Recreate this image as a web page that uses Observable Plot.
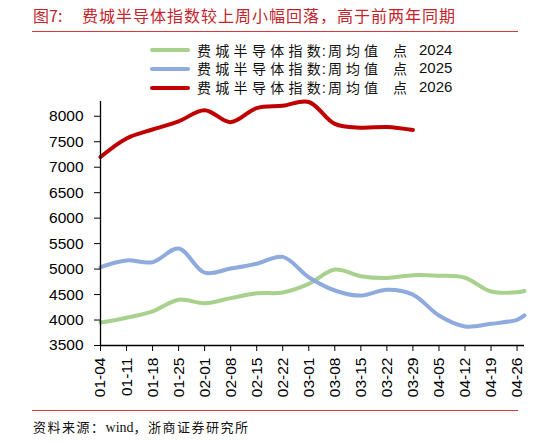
<!DOCTYPE html>
<html>
<head>
<meta charset="utf-8">
<script src="https://cdn.jsdelivr.net/npm/d3@7"></script>
<script src="https://cdn.jsdelivr.net/npm/@observablehq/plot@0.6"></script>
<style>
  html, body { margin: 0; padding: 0; background: #fff; }
  body { width: 548px; height: 442px; position: relative; overflow: hidden; }
  .abs { position: absolute; white-space: nowrap; }
  .title { color: #c4232b; font-family: "Noto Sans CJK SC", sans-serif; font-size: 16px; line-height: 20px; }
  .rule { position: absolute; left: 32px; width: 486px; height: 1.5px; background: #d9383c; }
  .leg { font-family: "Liberation Sans", "Noto Sans CJK SC", sans-serif; font-size: 15px; line-height: 18px; color: #111; }
  .cjk { font-family: "Noto Sans CJK SC", sans-serif; font-size: 14px; letter-spacing: 4px; }
  .sw { position: absolute; left: 150px; width: 40px; height: 4px; border-radius: 2px; }
  .src { font-family: "Liberation Serif", "Noto Sans CJK SC", serif; font-size: 13px; letter-spacing: 1.5px; color: #111; line-height: 16px; }
</style>
</head>
<body>
<div class="abs title" style="left:33px; top:5px;">图7:</div>
<div class="abs title" style="left:82px; top:5px; letter-spacing:1px;">费城半导体指数较上周小幅回落，高于前两年同期</div>
<div class="rule" style="top:30.5px;"></div>
<div id="legend"></div>
<div id="chart" class="abs" style="left:0; top:95px;"></div>
<div class="rule" style="top:409.5px;"></div>
<div class="abs src" style="left:33px; top:420px;">资料来源：<span style="letter-spacing:0; font-size:14px;">wind</span>，浙商证券研究所</div>
<script>
// ---- data ----
const tickLabels = ["01-04","01-11","01-18","01-25","02-01","02-08","02-15","02-22","03-01","03-08","03-15","03-22","03-29","04-05","04-12","04-19","04-26"];
const endLabel = "04-28";
const seriesNames = ["费城半导体指数:周均值 点 2024", "费城半导体指数:周均值 点 2025", "费城半导体指数:周均值 点 2026"];
const colors = ["#a9d18e", "#8faadc", "#c00000"];
const values2024 = [3950, 4045, 4170, 4400, 4330, 4430, 4525, 4540, 4710, 4990, 4860, 4825, 4880, 4870, 4830, 4560, 4545, 4570];
const values2025 = [5040, 5170, 5135, 5405, 4930, 5010, 5105, 5240, 4840, 4580, 4480, 4595, 4500, 4090, 3875, 3925, 4005, 4090];
const values2026 = [7200, 7565, 7740, 7900, 8120, 7885, 8160, 8205, 8280, 7850, 7776, 7790, 7730];
const yTicks = [3500, 4000, 4500, 5000, 5500, 6000, 6500, 7000, 7500, 8000];

const parse = s => d3.utcParse("%Y-%m-%d")("2026-" + s);
const pointLabels = tickLabels.concat([endLabel]);
const allSeries = [values2024, values2025, values2026];
const rows = [];
allSeries.forEach((vals, i) => vals.forEach((v, j) => rows.push({series: seriesNames[i], date: parse(pointLabels[j]), value: v})));

// ---- legend ----
const legend = document.getElementById("legend");
const legendY = [50, 68.5, 87.5];
seriesNames.forEach((n, i) => {
  const sw = document.createElement("div");
  sw.className = "sw";
  sw.style.top = (legendY[i] - 2) + "px";
  sw.style.background = colors[i];
  legend.appendChild(sw);
  const parts = n.split(" ");
  const [a, b] = parts[0].split(":");
  const t1 = document.createElement("div");
  t1.className = "abs leg";
  t1.style.left = "197px"; t1.style.top = (legendY[i] - 9.5) + "px";
  t1.innerHTML = `<span class="cjk" style="letter-spacing:4.3px">${a.slice(0, -1)}</span><span class="cjk" style="letter-spacing:1px">${a.slice(-1)}</span>:<span class="cjk" style="letter-spacing:4px; margin-left:2px">${b}</span>`;
  legend.appendChild(t1);
  const t2 = document.createElement("div");
  t2.className = "abs leg";
  t2.style.left = "393px"; t2.style.top = (legendY[i] - 9.5) + "px";
  t2.innerHTML = `<span class="cjk">${parts[1]}</span>`;
  legend.appendChild(t2);
  const t3 = document.createElement("div");
  t3.className = "abs leg";
  t3.style.left = "419px"; t3.style.top = (legendY[i] - 9.5) + "px";
  t3.textContent = parts[2];
  legend.appendChild(t3);
});

// ---- chart ----
const d0 = parse(tickLabels[0]);
const dEnd = parse(endLabel);
const chart = Plot.plot({
  width: 548,
  height: 310,
  marginLeft: 100,
  marginRight: 24,
  marginTop: 6,
  marginBottom: 60,
  style: {fontFamily: "Liberation Sans, sans-serif", fontSize: "15.5px", color: "#000", background: "transparent"},
  x: {type: "utc", domain: [d0, dEnd]},
  y: {domain: [3500, 8290]},
  color: {domain: seriesNames, range: colors},
  marks: [
    Plot.line(rows, {x: "date", y: "value", z: "series", stroke: "series", strokeWidth: 4, curve: "catmull-rom", strokeLinecap: "round"}),
    Plot.ruleX([d0], {stroke: "#000", strokeWidth: 1.3}),
    Plot.ruleY([3500], {stroke: "#000", strokeWidth: 1.3}),
    Plot.axisY({ticks: yTicks, tickSize: 6, tickPadding: 11, tickFormat: d => String(d), label: null}),
    Plot.axisX({ticks: tickLabels.map(parse), tickSize: 6, tickPadding: 6, tickRotate: -90, tickFormat: d3.utcFormat("%m-%d"), label: null})
  ]
});
document.getElementById("chart").appendChild(chart);
</script>
</body>
</html>
